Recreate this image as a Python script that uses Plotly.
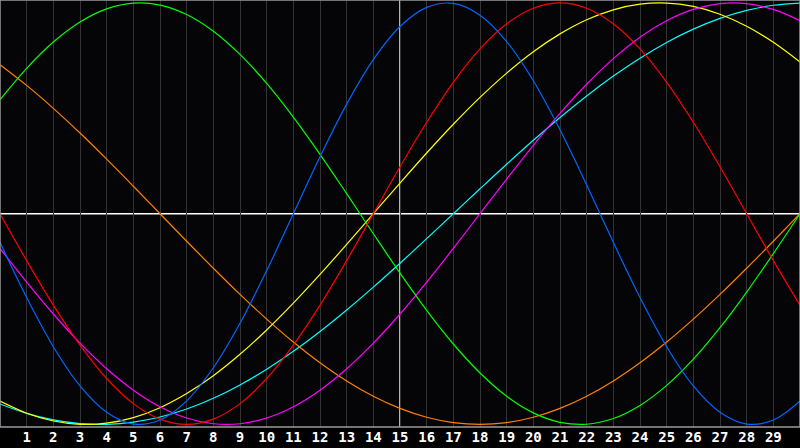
import plotly.graph_objects as go

days = list(range(0, 31))
tick_days = list(range(1, 30))
tick_labels = [str(d) for d in tick_days]

physical = [-0.136, -0.398, -0.631, -0.817, -0.942, -0.998, -0.979, -0.888, -0.731, -0.520,
            -0.270, 0.0, 0.270, 0.520, 0.731, 0.888, 0.979, 0.998, 0.942, 0.817,
            0.631, 0.398, 0.136, -0.136, -0.398, -0.631, -0.817, -0.942, -0.998, -0.979, -0.888]
emotional = [0.0, -0.2225, -0.4339, -0.6235, -0.7818, -0.9010, -0.9749, -1.0, -0.9749, -0.9010,
             -0.7818, -0.6235, -0.4339, -0.2225, 0.0, 0.2225, 0.4339, 0.6235, 0.7818, 0.9010,
             0.9749, 1.0, 0.9749, 0.9010, 0.7818, 0.6235, 0.4339, 0.2225, 0.0, -0.2225, -0.4339]
intellectual = [0.5407, 0.6900, 0.8146, 0.9096, 0.9718, 0.9989, 0.9898, 0.9450, 0.8660, 0.7557,
                0.6182, 0.4582, 0.2817, 0.0951, -0.0951, -0.2817, -0.4582, -0.6182, -0.7557, -0.8660,
                -0.9450, -0.9898, -0.9989, -0.9718, -0.9096, -0.8146, -0.6900, -0.5407, -0.3717, -0.1893, 0.0]
intuitive = [-0.1646, -0.3247, -0.4759, -0.6142, -0.7357, -0.8372, -0.9158, -0.9694, -0.9966, -0.9966,
             -0.9694, -0.9158, -0.8372, -0.7357, -0.6142, -0.4759, -0.3247, -0.1646, 0.0, 0.1646,
             0.3247, 0.4759, 0.6142, 0.7357, 0.8372, 0.9158, 0.9694, 0.9966, 0.9966, 0.9694, 0.9158]
aesthetic = [-0.8893, -0.9465, -0.9834, -0.9993, -0.9940, -0.9675, -0.9204, -0.8533, -0.7686, -0.6671,
             -0.5517, -0.4244, -0.2881, -0.1456, 0.0, 0.1456, 0.2881, 0.4244, 0.5517, 0.6671,
             0.7686, 0.8533, 0.9204, 0.9675, 0.9940, 0.9993, 0.9834, 0.9465, 0.8893, 0.8133, 0.7199]
awareness = [0.7071, 0.6088, 0.5, 0.3827, 0.2588, 0.1305, 0.0, -0.1305, -0.2588, -0.3827,
             -0.5, -0.6088, -0.7071, -0.7934, -0.8660, -0.9239, -0.9659, -0.9914, -1.0, -0.9914,
             -0.9659, -0.9239, -0.8660, -0.7934, -0.7071, -0.6088, -0.5, -0.3827, -0.2588, -0.1305, 0.0]
spiritual = [-0.9028, -0.9473, -0.9786, -0.9961, -0.9996, -0.9890, -0.9646, -0.9267, -0.8758, -0.8126,
             -0.7380, -0.6529, -0.5587, -0.4566, -0.3482, -0.2349, -0.1183, 0.0, 0.1183, 0.2349,
             0.3482, 0.4566, 0.5587, 0.6529, 0.7380, 0.8126, 0.8758, 0.9267, 0.9646, 0.9890, 0.9996]

series = [
    ("Spiritual", spiritual, "#00ffff"),
    ("Awareness", awareness, "#ff8000"),
    ("Aesthetic", aesthetic, "#ffff00"),
    ("Intuitive", intuitive, "#ff00ff"),
    ("Intellectual", intellectual, "#00ff00"),
    ("Emotional", emotional, "#ff0000"),
    ("Physical", physical, "#0066ff"),
]

fig = go.Figure()
for name, vals, col in series:
    fig.add_trace(go.Scatter(x=days, y=vals, mode="lines", name=name,
                             line=dict(color=col, width=1.2, shape="spline", smoothing=1.0),
                             hoverinfo="skip"))

fig.add_shape(type="line", xref="x", yref="paper", x0=15, x1=15, y0=0, y1=1,
              line=dict(color="#ffffff", width=1.4), layer="below")
fig.add_shape(type="line", xref="paper", yref="y", x0=0, x1=1, y0=0, y1=0,
              line=dict(color="#ffffff", width=1.4), layer="below")
fig.add_shape(type="rect", xref="paper", yref="paper", x0=0, x1=1, y0=0, y1=1,
              line=dict(color="#9a9a9a", width=1.5), layer="above")

fig.update_layout(
    width=800, height=448,
    margin=dict(l=0, r=0, t=0, b=21),
    paper_bgcolor="#000000",
    plot_bgcolor="#050508",
    showlegend=False,
    xaxis=dict(range=[0, 30], tickmode="array", tickvals=tick_days,
               ticktext=["<b>" + t + "</b>" for t in tick_labels],
               showgrid=True, gridcolor="#333333", gridwidth=1,
               zeroline=False, showline=False, ticks="",
               tickfont=dict(family="DejaVu Sans Mono", size=14, color="#ffffff"),
               fixedrange=True),
    yaxis=dict(range=[-1.012, 1.014], showgrid=False, zeroline=False,
               showticklabels=False, ticks="", showline=False, fixedrange=True),
)

fig.write_html("out.html", config={"displayModeBar": False},
               post_script="document.body.style.margin='0';document.body.style.padding='0';document.body.style.overflow='hidden';document.body.style.background='#000';")
